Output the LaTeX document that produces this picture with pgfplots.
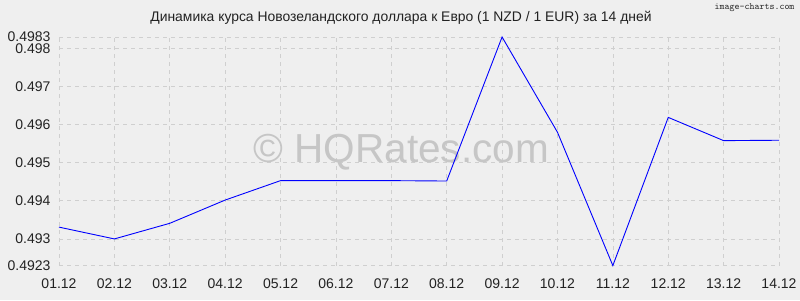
\documentclass[border=0pt]{standalone}
\usepackage{pgfplots}
\pgfplotsset{compat=1.18}
\usepackage{fontspec}
\setmainfont{Liberation Sans}
\definecolor{bg}{HTML}{EFEFEF}
\definecolor{gridc}{HTML}{CFCFCF}
\definecolor{wm}{HTML}{C6C6C6}
\definecolor{txt}{HTML}{222222}
\begin{document}
\begin{tikzpicture}[x=1pt,y=1pt]
\fill[bg] (0,0) rectangle (800,300);
\useasboundingbox (0,0) rectangle (800,300);
\node[text=txt,font=\fontsize{13.9}{16}\selectfont] at (401,282) {Динамика курса Новозеландского доллара к Евро (1 NZD / 1 EUR) за 14 дней};
\node[text=txt,font=\fontsize{9.5}{10}\selectfont\ttfamily,anchor=east] at (798,292) {image-charts.com};
\begin{axis}[
  at={(59pt,34.4pt)}, anchor=south west,
  scale only axis, width=720pt, height=228.6pt,
  xmin=0, xmax=13, ymin=0.4923, ymax=0.4983,
  enlargelimits=false, clip=false,
  axis line style={draw=none},
  major tick length=0pt,
  xtick={0,...,13},
  xticklabels={01.12,02.12,03.12,04.12,05.12,06.12,07.12,08.12,09.12,10.12,11.12,12.12,13.12,14.12},
  ytick={0.4923,0.493,0.494,0.495,0.496,0.497,0.498,0.4983},
  yticklabels={0.4923,0.493,0.494,0.495,0.496,0.497,0.498,0.4983},
  /pgf/number format/assume math mode=true,
  tick label style={text=txt,font=\fontsize{14}{16}\selectfont},
  xticklabel style={yshift=-10pt},
  yticklabel style={xshift=-5pt},
  grid=major,
  major grid style={gridc, dash pattern=on 4pt off 4pt, line width=0.7pt},
  axis on top=false,
]
\node[text=wm,font=\fontsize{40.5}{44}\selectfont] at (axis cs:6.18,0.49528) {© HQRates.com};
\addplot[blue, line width=0.9pt, mark=none] coordinates {
(0,0.49331) (1,0.49300) (2,0.49341) (3,0.49402) (4,0.49453) (5,0.49453) (6,0.49453) (7,0.49452) (8,0.4983) (9,0.49580) (10,0.4923) (11,0.49619) (12,0.49558) (13,0.49559)
};
\end{axis}
\end{tikzpicture}
\end{document}
